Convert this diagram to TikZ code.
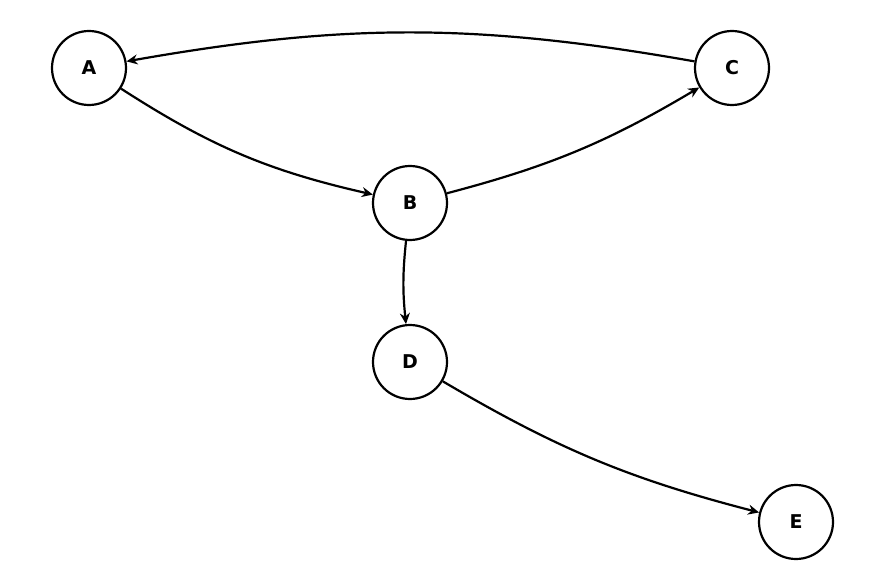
\documentclass[tikz,border=0pt]{standalone}
\usepackage{fontspec}
\setmainfont{DejaVu Sans}
\usetikzlibrary{arrows.meta}
\begin{document}
\begin{tikzpicture}[x=1pt, y=-1pt, line width=2.2pt, >={Stealth[length=11pt,width=10pt]},
      every node/.style={circle, draw, minimum size=74pt, inner sep=0pt, font=\bfseries\fontsize{19}{22}\selectfont}, ->]
    \useasboundingbox (0,0) rectangle (885,585);
    \node (A) at (89,68) {A};
    \node (C) at (732,68) {C};
    \node (B) at (410,203) {B};
    \node (D) at (410,362) {D};
    \node (E) at (796,522) {E};
    \draw (A) to[bend right=10] (B);
    \draw (B) to[bend right=8] (C);
    \draw (C) to[bend right=10] (A);
    \draw (B) to[bend right=6] (D);
    \draw (D) to[bend right=8] (E);
  \end{tikzpicture}
\end{document}
